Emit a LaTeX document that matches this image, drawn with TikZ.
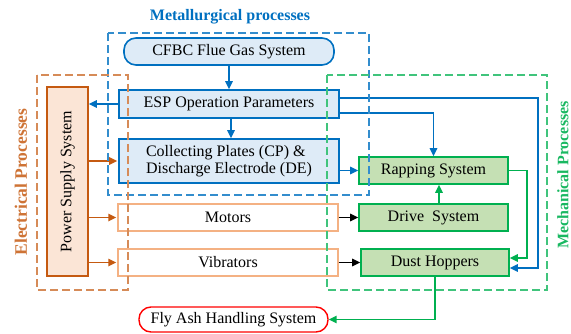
\documentclass[tikz,border=0pt]{standalone}
\usepackage{fontspec}
\setmainfont{Liberation Serif}
\usetikzlibrary{arrows.meta}
\definecolor{metblue}{HTML}{0070C0}
\definecolor{metfill}{HTML}{DEEBF7}
\definecolor{elecorange}{HTML}{C55A11}
\definecolor{elecfill}{HTML}{FBE5D6}
\definecolor{eleclight}{HTML}{F4B183}
\definecolor{mechgreen}{HTML}{00B050}
\definecolor{mechfill}{HTML}{C5E0B4}
\definecolor{flyred}{HTML}{FF0000}

\begin{document}
\begin{tikzpicture}[x=1pt,y=-1pt,
	every node/.style={inner sep=0pt,font=\fontsize{16}{17.5}\selectfont},
	metbox/.style={draw=metblue,line width=1.6pt,fill=metfill,minimum width=220pt,minimum height=28pt},
	elecbox/.style={draw=eleclight,line width=1.4pt,fill=white,minimum width=220pt,minimum height=27pt},
	mechbox/.style={draw=mechgreen,line width=1.6pt,fill=mechfill,minimum width=149pt,minimum height=27pt},
	frame/.style={line width=1.3pt,dash pattern=on 8pt off 4pt},
	title/.style={font=\fontsize{16}{17.5}\selectfont\bfseries},
	>={Triangle[length=8pt,width=7.5pt]}]
	\useasboundingbox (0,0) rectangle (571,333);

	% metallurgical side
	\node[metbox,rounded corners=12pt,minimum width=210pt,minimum height=27pt] (cfbc) at (229,51.5) {CFBC Flue Gas System};
	\node[metbox] (esp) at (229,104) {ESP Operation Parameters};
	\node[metbox,minimum height=44pt,align=left] (cp) at (229,161) {Collecting Plates (CP) \&\\Discharge Electrode (DE)};

	% electrical side
	\node[draw=elecorange,line width=1.6pt,fill=elecfill,minimum width=41pt,minimum height=189pt] (pss) at (67.5,181.5) {\rotatebox{90}{Power Supply System}};
	\node[elecbox] (motors) at (228,217.5) {Motors};
	\node[elecbox] (vib) at (228,262.5) {Vibrators};

	% mechanical side
	\node[mechbox] (rap) at (433.5,170.5) {Rapping System};
	\node[mechbox] (drive) at (433.5,217.5) {Drive\ \ System};
	\node[mechbox,minimum width=148pt] (dust) at (435,262.5) {Dust Hoppers};
	\node[draw=flyred,line width=1.4pt,fill=white,rounded corners=12pt,minimum width=189pt,minimum height=25pt] (fly) at (233.5,319.5) {Fly Ash Handling System};

	% connectors
	\begin{scope}[metblue,line width=1.5pt]
		\draw[->] (cfbc) -- (esp);
		\draw[->] (esp.west) -- (esp.west -| pss.east);
		\draw[->] ([xshift=2pt]esp.south) -- ([xshift=2pt]cp.north);
		\draw[->] (esp.east |- 0,113) -| (rap.north);
		\draw[->] (esp.east |- 0,98) -- (538,98) -- (538,268) -- (dust.east |- 0,268);
		\draw[->] (cp.east |- rap.west) -- (rap.west);
	\end{scope}
	\foreach \t in {cp,motors,vib}
		\draw[elecorange,line width=1.5pt,->] (pss.east |- \t.west) -- ([xshift=-1pt]\t.west);
	\begin{scope}[mechgreen,line width=1.5pt]
		\draw[->] (rap.east) -- (527,170.5) |- (dust.east |- 0,258);
		\draw[->] ([xshift=5.5pt]drive.north) -- ([xshift=5.5pt]rap.south);
		\draw[->] (dust.south) |- (fly.east);
	\end{scope}
	\draw[line width=1.5pt,->] (motors.east) -- (drive.west);
	\draw[line width=1.5pt,->] (vib.east) -- (dust.west);

	% process frames
	\draw[frame,metblue!80] (108,33) rectangle (369,195);
	\draw[frame,elecorange!70] (37,75) rectangle (128,290);
	\draw[frame,mechgreen!75] (327,75) rectangle (547,290);
	\node[title,text=metblue] (mettitle) at (230,17) {Metallurgical processes};
	\node[title,text=elecorange!85,rotate=90,font=\fontsize{17.5}{19}\selectfont\bfseries] (electitle) at (21,182) {Electrical Processes};
	\node[title,text=mechgreen!90,rotate=90] (mechtitle) at (563,175) {Mechanical Processes};
\end{tikzpicture}
\end{document}
